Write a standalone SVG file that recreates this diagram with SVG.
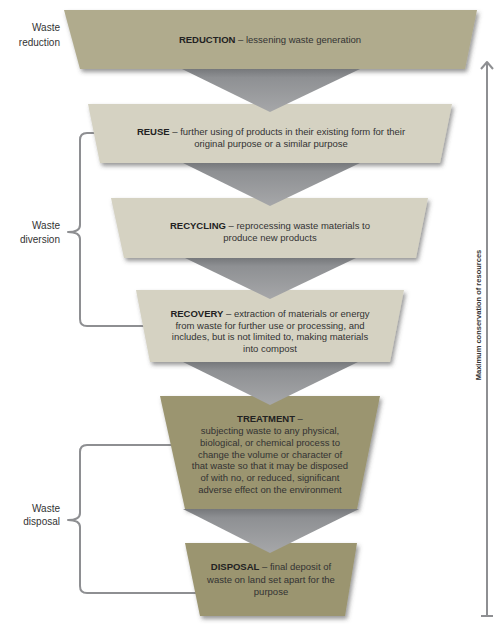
<svg xmlns="http://www.w3.org/2000/svg" width="500" height="629" viewBox="0 0 500 629">
<defs>
<style>
.lbl{font-family:"Liberation Sans",Arial,sans-serif;font-size:10px;fill:#333;text-anchor:end}
.t{font-family:"Liberation Sans",Arial,sans-serif;font-size:9.5px;fill:#333;text-anchor:middle}
.b{font-weight:bold;fill:#222}
.brace{fill:none;stroke:#8e8f92;stroke-width:2;stroke-linejoin:round}
.light{fill:#d5d2c2}
.mid{fill:#b0ab8d}
.dark{fill:#9b9570}
.tri{fill:url(#tg)}
</style>
<linearGradient id="tg" x1="0" y1="0" x2="0" y2="1">
<stop offset="0" stop-color="#76787b"/>
<stop offset="0.2" stop-color="#8e9093"/>
<stop offset="1" stop-color="#a6a7a9"/>
</linearGradient>
<filter id="sh" x="-10%" y="-10%" width="125%" height="140%">
<feDropShadow dx="2" dy="3" stdDeviation="2" flood-color="#444" flood-opacity="0.55"/>
</filter>
</defs>
<rect width="500" height="629" fill="#fff"/>

<g id="connectors">
<path class="brace" d="M97,133 H87 Q80,133 80,140 V225 Q80,232 68,232 Q80,232 80,239 V319 Q80,326 87,326 H146"/>
<path class="brace" d="M175,445 H87 Q80,445 80,452 V513 Q80,520 68,520 Q80,520 80,527 V586 Q80,593 87,593 H198"/>
<path class="brace" d="M487,616 V62 M481,69 L487,62 L493,69 M481,616 H493"/>
</g>

<g id="reduction">
<polygon class="mid" filter="url(#sh)" points="64,10 477,10 465,69 80,69"/>
<text class="t" x="270" y="43"><tspan class="b">REDUCTION</tspan> – lessening waste generation</text>
</g>
<g id="reuse">
<polygon class="light" filter="url(#sh)" points="88,104 452,104 440,163 100,163"/>
<text class="t" x="271" y="135"><tspan class="b">REUSE</tspan> – further using of products in their existing form for their</text>
<text class="t" x="271" y="147">original purpose or a similar purpose</text>
</g>
<g id="recycling">
<polygon class="light" filter="url(#sh)" points="111,198 428,198 416,258 124,258"/>
<text class="t" x="270" y="229"><tspan class="b">RECYCLING</tspan> – reprocessing waste materials to</text>
<text class="t" x="270" y="241">produce new products</text>
</g>
<g id="recovery">
<polygon class="light" filter="url(#sh)" points="136,290 404,290 390,362 150,362"/>
<text class="t" x="270" y="317"><tspan class="b">RECOVERY</tspan> – extraction of materials or energy</text>
<text class="t" x="270" y="328.5">from waste for further use or processing, and</text>
<text class="t" x="270" y="340">includes, but is not limited to, making materials</text>
<text class="t" x="270" y="351.5">into compost</text>
</g>
<g id="treatment">
<polygon class="dark" filter="url(#sh)" points="160,396 380,396 357,509 185,509"/>
<text class="t" x="270" y="422"><tspan class="b">TREATMENT</tspan> –</text>
<text class="t" x="270" y="434">subjecting waste to any physical,</text>
<text class="t" x="270" y="446">biological, or chemical process to</text>
<text class="t" x="270" y="457.5">change the volume or character of</text>
<text class="t" x="270" y="469">that waste so that it may be disposed</text>
<text class="t" x="270" y="481">of with no, or reduced, significant</text>
<text class="t" x="270" y="492.5">adverse effect on the environment</text>
</g>
<g id="disposal">
<polygon class="dark" filter="url(#sh)" points="185,543 357,543 345,616 200,616"/>
<text class="t" x="271" y="570"><tspan class="b">DISPOSAL</tspan> – final deposit of</text>
<text class="t" x="271" y="583">waste on land set apart for the</text>
<text class="t" x="271" y="595">purpose</text>
</g>

<g id="arrows">
<polygon class="tri" points="182,69 360,69 270,112"/>
<polygon class="tri" points="183,163 360,163 270,206"/>
<polygon class="tri" points="185,258 356,258 270,299"/>
<polygon class="tri" points="183,362 358,362 270,405"/>
<polygon class="tri" points="183,509 359,509 270,553"/>
</g>

<g id="labels">
<text class="lbl" x="60" y="31">Waste</text>
<text class="lbl" x="60" y="46">reduction</text>
<text class="lbl" x="60" y="229">Waste</text>
<text class="lbl" x="60" y="243">diversion</text>
<text class="lbl" x="60" y="512">Waste</text>
<text class="lbl" x="60" y="525">disposal</text>
<text x="0" y="0" transform="translate(481,315) rotate(-90)" style="font-family:'Liberation Sans',Arial,sans-serif;font-size:7.5px;font-weight:bold;fill:#333;text-anchor:middle">Maximum conservation of resources</text>
</g>
</svg>
